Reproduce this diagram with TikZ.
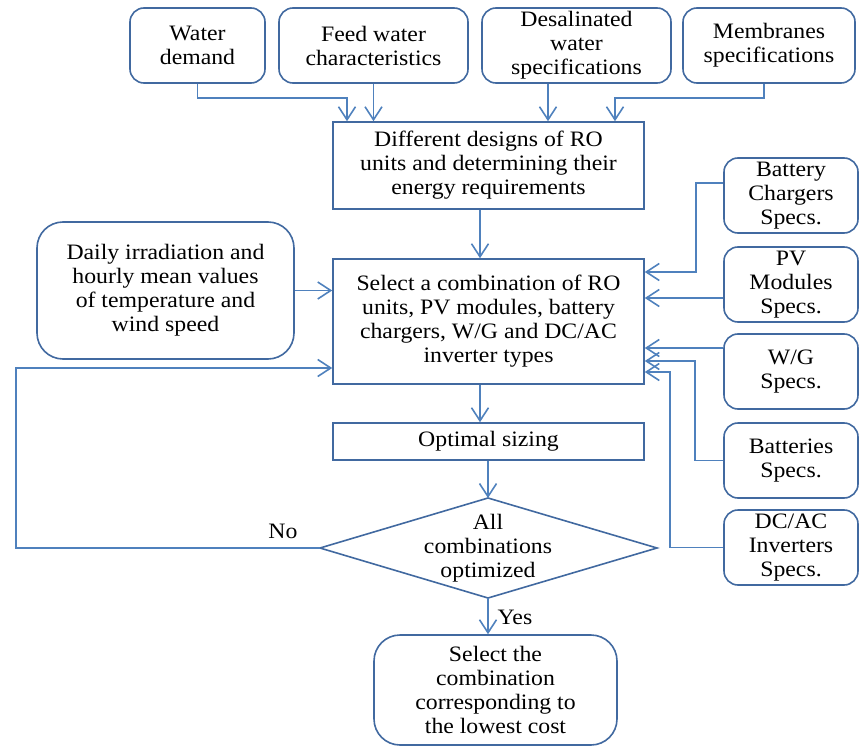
\documentclass[tikz,border=0pt]{standalone}
\usepackage{fontspec}
\setmainfont[FakeStretch=1.08]{Liberation Serif}
\usetikzlibrary{arrows.meta,calc}
\definecolor{bx}{RGB}{65,105,160}
\definecolor{ln}{RGB}{79,129,189}
\begin{document}
\begin{tikzpicture}[x=1pt,y=-1pt,
  base/.style={inner sep=0pt, align=center, font=\fontsize{22}{24}\selectfont},
  sbox/.style={base, draw=bx, line width=1.6pt},
  rbox/.style={sbox, rounded corners=14pt},
  side/.style={rbox, minimum width=134pt, minimum height=75pt},
  lbl/.style={base},
  conn/.style={draw=ln, line width=1.6pt, -{Straight Barb[length=13pt,width=17pt,line width=1.6pt]}}]
\useasboundingbox (0,0) rectangle (859,746);

% top inputs
\node[rbox, minimum width=135pt, minimum height=75pt] (wd) at (197.5,45.5) {Water\\demand};
\node[rbox, minimum width=189pt, minimum height=75pt] (fw) at (373.5,45.5) {Feed water\\characteristics};
\node[rbox, minimum width=189pt, minimum height=75pt] (dw) at (576.5,45.5) {Desalinated\\water\\specifications};
\node[rbox, minimum width=172pt, minimum height=75pt] (ms) at (769,45.5) {Membranes\\specifications};

% main column
\node[sbox, minimum width=311pt, minimum height=87pt] (dd) at (488.5,165.5) {Different designs of RO\\units and determining their\\energy requirements};
\node[rbox, rounded corners=26pt, minimum width=257pt, minimum height=137pt] (daily) at (165.5,290.5) {Daily irradiation and\\hourly mean values\\of temperature and\\wind speed};
\node[sbox, minimum width=311pt, minimum height=125pt] (sel) at (488.5,321.5) {Select a combination of RO\\units, PV modules, battery\\chargers, W/G and DC/AC\\inverter types};
\node[sbox, minimum width=311pt, minimum height=37pt] (opt) at (488.5,441.5) {Optimal sizing};

% decision diamond
\coordinate (dT) at (488,498);
\coordinate (dR) at (657,548);
\coordinate (dB) at (488,598);
\coordinate (dL) at (320,548);
\draw[bx, line width=1.6pt] (dT) -- (dR) -- (dB) -- (dL) -- cycle;
\node[lbl] (dia) at (488,548) {All\\combinations\\optimized};

\node[rbox, rounded corners=26pt, minimum width=243pt, minimum height=110pt] (final) at (495.5,690) {Select the\\combination\\corresponding to\\the lowest cost};

% right-side specs
\node[side] (bc) at (791,195.5) {Battery\\Chargers\\Specs.};
\node[side] (pv) at (791,284.5) {PV\\Modules\\Specs.};
\node[side] (wg) at (791,371.5) {W/G\\Specs.};
\node[side] (bat) at (791,460.5) {Batteries\\Specs.};
\node[side] (dc) at (791,547.5) {DC/AC\\Inverters\\Specs.};

% labels
\node[lbl] (no) at (283,531) {No};
\node[lbl] (yes) at (515,617) {Yes};

% connectors: top inputs
\draw[conn] (wd.south) -- ++(0,14) -| ($(dd.north)+(-141.5,0)$);
\draw[conn] (fw.south) -- (fw.south |- dd.north);
\draw[conn] ($(dw.south)+(-28.5,0)$) -- ($(dd.north)+(59.5,0)$);
\draw[conn] ($(ms.south)+(-5,0)$) -- ++(0,14) -| ($(dd.north)+(126.5,0)$);

% main flow
\draw[conn] ($(dd.south)+(-8.5,0)$) -- ($(sel.north)+(-8.5,0)$);
\draw[conn] (daily.east) -- (daily.east -| sel.west);
\draw[conn] ($(sel.south)+(-8.5,0)$) -- ($(opt.north)+(-8.5,0)$);
\draw[conn] (opt.south -| dT) -- (dT);
\draw[conn] (dB) -- (dB |- final.north);
\coordinate (loopc) at (16,548);
\draw[conn] (dL) -- (loopc) |- ($(sel.west)+(0,46.5)$);

% right-side connectors
\draw[conn] ($(bc.west)+(0,-12.5)$) -- ++(-27,0) |- ($(sel.east)+(0,-49.5)$);
\draw[conn] ($(pv.west)+(0,13.5)$) -- ($(sel.east)+(0,-23.5)$);
\draw[conn] ($(wg.west)+(0,-23.5)$) -- ($(sel.east)+(0,26.5)$);
\draw[conn] (bat.west) -- ++(-28,0) |- ($(sel.east)+(0,39.5)$);
\draw[conn] (dc.west) -- ++(-53,0) |- ($(sel.east)+(0,50.5)$);
\end{tikzpicture}
\end{document}
